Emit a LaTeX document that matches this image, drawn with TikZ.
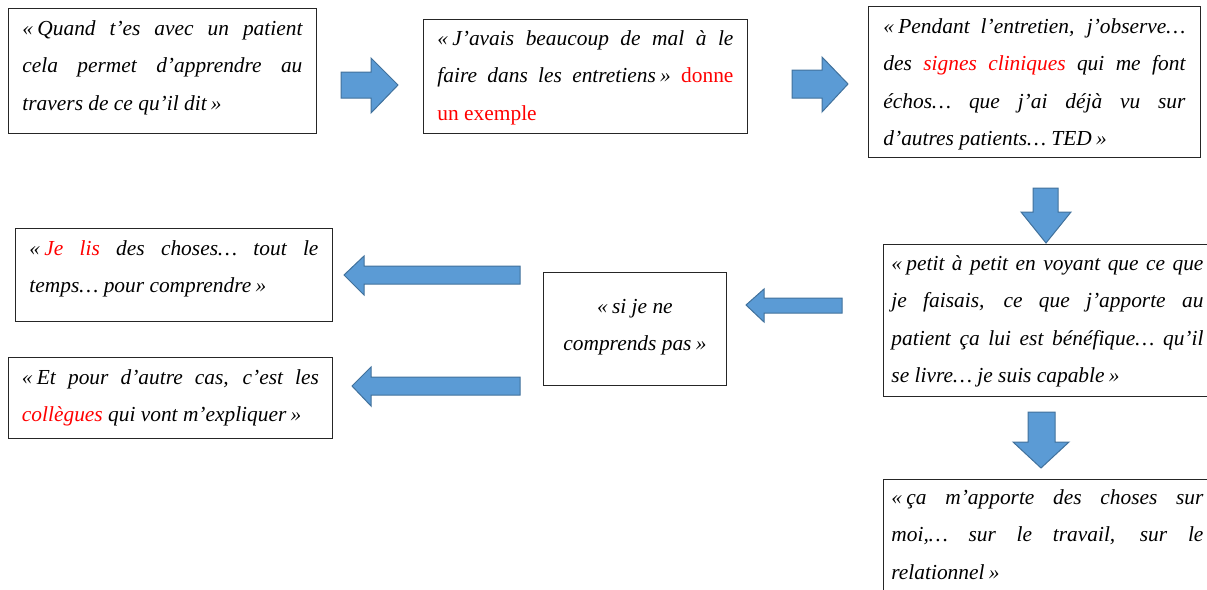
\documentclass[tikz,border=0pt]{standalone}
\usepackage{fontspec}
\setmainfont{Liberation Serif}
\definecolor{arrfill}{HTML}{5B9BD5}
\definecolor{arrline}{HTML}{41719C}
\definecolor{qred}{HTML}{FF0000}
\newcommand{\qbody}[4]{\parbox[c][#1][t]{#2}{\fontsize{21.4}{37.5}\selectfont\itshape\hyphenpenalty=10000\exhyphenpenalty=10000\rule{0pt}{#3}#4}}
\newcommand{\qo}{«\kern0.2em}
\newcommand{\qc}{\kern0.2em»}
\newcommand{\qr}[1]{\textcolor{qred}{#1}}
\tikzset{
  qbox/.style={draw=black!85, line width=0.9pt, inner ysep=0pt, anchor=north west},
  blockarrow/.style={fill=arrfill, draw=arrline, line width=1pt, line join=miter}
}
\begin{document}
\begin{tikzpicture}[x=1pt,y=-1pt]
\useasboundingbox (0,0) rectangle (1207,589);
\clip (0,0) rectangle (1207,589);
% boxes
\node[qbox, inner xsep=14pt] (q1) at (8,8) {\qbody{125pt}{280pt}{27pt}{\qo Quand t’es avec un patient\linebreak cela permet d’apprendre au\linebreak travers de ce qu’il dit\qc}};
\node[qbox, inner xsep=14pt] (q2) at (423,19) {\qbody{114pt}{296pt}{26pt}{\qo J’avais beaucoup de mal à le\linebreak faire dans les entretiens\qc{} \qr{\upshape donne}\linebreak \qr{\upshape un exemple}}};
\node[qbox, inner xsep=15pt] (q3) at (868,6) {\qbody{151pt}{302pt}{27pt}{\qo Pendant l’entretien, j’observe…\linebreak des \qr{signes cliniques} qui me font\linebreak échos… que j’ai déjà vu sur\linebreak d’autres patients… TED\qc}};
\node[qbox, inner xsep=8pt] (q4) at (883,244) {\qbody{152pt}{312pt}{26pt}{\qo petit à petit en voyant que ce que\linebreak je faisais, ce que j’apporte au\linebreak patient ça lui est bénéfique… qu’il\linebreak se livre… je suis capable\qc}};
\node[qbox, inner xsep=8pt] (q5) at (883,479) {\qbody{140pt}{312pt}{25pt}{\qo ça m’apporte des choses sur\linebreak moi,… sur le travail, sur le\linebreak relationnel\qc}};
\node[qbox, inner xsep=14pt] (q6) at (543,272) {\qbody{113pt}{155pt}{41pt}{\centering\qo si je ne\\ comprends pas\qc}};
\node[qbox, inner xsep=14pt] (q7) at (15,228) {\qbody{93pt}{289pt}{27pt}{\qo \qr{Je lis} des choses… tout le\linebreak temps… pour comprendre\qc}};
\node[qbox, inner xsep=13.5pt] (q8) at (8,357) {\qbody{81pt}{297pt}{27pt}{\qo Et pour d’autre cas, c’est les\linebreak \qr{collègues} qui vont m’expliquer\qc}};
% block arrows
\draw[blockarrow] (341,72) -- (371,72) -- (371,58) -- (398,85) -- (371,113) -- (371,98) -- (341,98) -- cycle;
\draw[blockarrow] (792,70) -- (822,70) -- (822,57) -- (848,84) -- (822,112) -- (822,98) -- (792,98) -- cycle;
\draw[blockarrow] (1033,188) -- (1058,188) -- (1058,212) -- (1071,212) -- (1046,243) -- (1021,212) -- (1033,212) -- cycle;
\draw[blockarrow] (1028,412) -- (1055,412) -- (1055,442) -- (1069,442) -- (1041,468) -- (1013,442) -- (1028,442) -- cycle;
\draw[blockarrow] (520,266) -- (364,266) -- (364,256) -- (344,275) -- (364,295) -- (364,284) -- (520,284) -- cycle;
\draw[blockarrow] (520,377) -- (371,377) -- (371,367) -- (352,386) -- (371,406) -- (371,395) -- (520,395) -- cycle;
\draw[blockarrow] (842,298) -- (764,298) -- (764,289) -- (746,305) -- (764,322) -- (764,313) -- (842,313) -- cycle;
\end{tikzpicture}
\end{document}
